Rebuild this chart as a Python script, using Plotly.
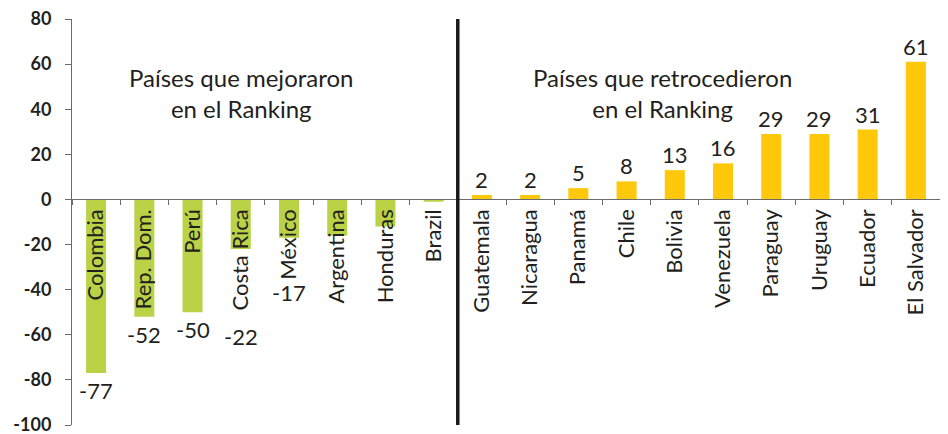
import plotly.graph_objects as go

categories = ["Colombia", "Rep. Dom.", "Perú", "Costa Rica", "México", "Argentina",
              "Honduras", "Brazil", "Guatemala", "Nicaragua", "Panamá", "Chile",
              "Bolivia", "Venezuela", "Paraguay", "Uruguay", "Ecuador", "El Salvador"]
values = [-77, -52, -50, -22, -17, -16, -12, -1, 2, 2, 5, 8, 13, 16, 29, 29, 31, 61]
value_labels = ["-77", "-52", "-50", "-22", "-17", "", "", "", "2", "2", "5", "8",
                "13", "16", "29", "29", "31", "61"]
y_ticks = [-100, -80, -60, -40, -20, 0, 20, 40, 60, 80]
y_tick_text = ["-100", "-80", "-60", "-40", "-20", "0", "20", "40", "60", "80"]
group_notes = ["Países que mejoraron<br>en el Ranking", "Países que retrocedieron<br>en el Ranking"]

GREEN = "#bad246"
YELLOW = "#ffc80a"
TXT = "#231f20"
FONT = "Lato"
Y_MIN, Y_MAX = -100, 80

colors = [GREEN if v < 0 else YELLOW for v in values]

fig = go.Figure()
fig.add_trace(go.Bar(
    x=categories, y=values, marker=dict(color=colors, line=dict(width=0)),
    hoverinfo="x+y",
))

# value labels: negative ones go below the bar or below the rotated category name,
# whichever is lower (approx. name length from its character count)
plot_h_px = 426 - 11 - 9
px_per_unit = plot_h_px / (Y_MAX - Y_MIN)
for cat, v, lab in zip(categories, values, value_labels):
    if not lab:
        continue
    if v < 0:
        name_end = -(10 + 11 * len(cat)) / px_per_unit
        fig.add_annotation(x=cat, y=min(v, name_end), xref="x", yref="y", text=lab,
                           showarrow=False, yanchor="top", yshift=-2,
                           font=dict(family=FONT, size=22, color=TXT))
    else:
        fig.add_annotation(x=cat, y=v, xref="x", yref="y", text=lab,
                           showarrow=False, yanchor="bottom", yshift=0,
                           font=dict(family=FONT, size=22, color=TXT))

fig.add_shape(type="line", xref="x", yref="y", x0=7.5, x1=7.5, y0=Y_MIN, y1=Y_MAX,
              line=dict(color="#1a1a1a", width=3.5), layer="above")

fig.add_annotation(x=3, y=47, xref="x", yref="y", text=group_notes[0], showarrow=False,
                   font=dict(family=FONT, size=24, color=TXT), align="center")
fig.add_annotation(x=11.74, y=47, xref="x", yref="y", text=group_notes[1], showarrow=False,
                   font=dict(family=FONT, size=24, color=TXT), align="center")

fig.update_layout(
    width=940, height=426,
    margin=dict(l=64, r=8, t=11, b=9, autoexpand=False),
    paper_bgcolor="white", plot_bgcolor="white",
    showlegend=False, bargap=0.585,
    font=dict(family=FONT, color=TXT),
    xaxis=dict(
        type="category", anchor="free", position=-Y_MIN / (Y_MAX - Y_MIN),
        showline=True, linecolor="#6b6b6b", linewidth=1, automargin=False,
        ticks="outside", tickson="boundaries", ticklen=5, tickcolor="#6b6b6b",
        tickangle=-90, tickfont=dict(family=FONT, size=22, color=TXT),
        showgrid=False, zeroline=False, range=[-0.5, 17.5],
    ),
    yaxis=dict(
        range=[Y_MIN, Y_MAX], tickmode="array", tickvals=y_ticks, ticktext=y_tick_text,
        showline=True, linecolor="#6b6b6b", ticklabeloverflow="allow", automargin=False,
        linewidth=1, ticks="outside", ticklen=6, tickcolor="#6b6b6b",
        ticklabelstandoff=10,
        tickfont=dict(family=FONT, size=18, color=TXT, weight="bold"),
        showgrid=False, zeroline=False,
    ),
)

fig.write_html("out.html")
